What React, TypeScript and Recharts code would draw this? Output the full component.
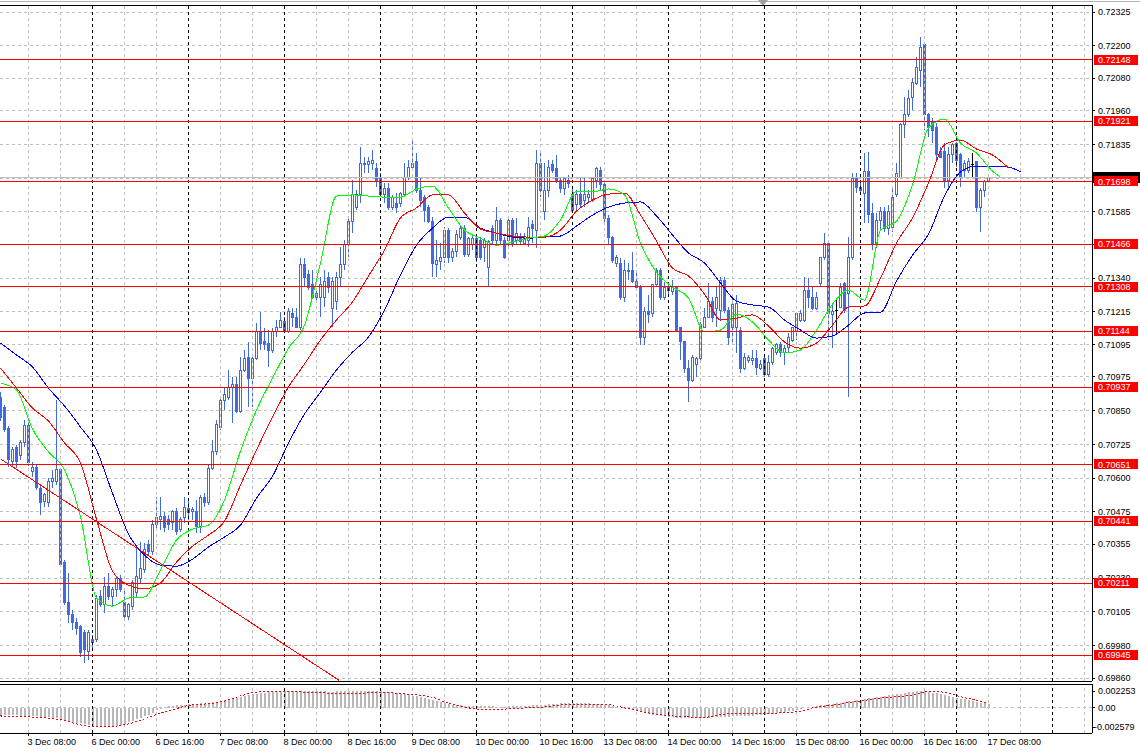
import React from 'react';
import { ComposedChart, Bar, Line, XAxis, YAxis, CartesianGrid, ReferenceLine } from 'recharts';

const PT = 0.00001;

const openPts = [
70900,70863,70785,70660,70715,70682,70730,70793,70623,70641,
70563,70512,70508,70586,70586,70630,70286,70138,70094,70064,
70049,70027,69957,70001,70001,70160,70131,70197,70160,70186,
70230,70138,70086,70123,70175,70230,70260,70353,70327,70427,
70445,70456,70445,70434,70475,70408,70453,70489,70475,70475,
70419,70530,70508,70637,70697,70789,70889,70900,70934,70945,
70845,71000,71048,70970,71044,71141,71104,71100,71074,71141,
71159,71178,71141,71211,71196,71159,71389,71352,71315,71267,
71267,71270,71344,71229,71252,71344,71389,71463,71548,71603,
71648,71766,71759,71766,71747,71710,71648,71673,71603,71618,
71618,71648,71714,71751,71770,71666,71637,71603,71548,71389,
71400,71415,71518,71415,71437,71492,71525,71426,71463,71488,
71481,71455,71381,71525,71481,71555,71481,71481,71555,71481,
71492,71470,71481,71537,71518,71766,71585,71666,71759,71747,
71703,71673,71703,71648,71611,71648,71629,71637,71629,71703,
71740,71685,71562,71492,71396,71396,71270,71370,71370,71326,
71307,71122,71215,71211,71315,71370,71267,71296,71289,71304,
71156,71104,71007,70963,71019,71044,71159,71196,71252,71229,
71222,71333,71222,71156,71159,71148,71007,71037,71037,71044,
71007,71044,70982,71026,71063,71093,71063,71085,71111,71141,
71185,71185,71296,71270,71229,71322,71415,71470,71204,71222,
71233,71322,71285,71415,71710,71677,71655,71733,71581,71470,
71555,71585,71525,71529,71648,71714,71907,71944,72010,72062,
72110,72203,71944,71918,71896,71807,71807,71703,71796,71840,
71796,71740,71740,71762,71770,71600,71666,71696];

const highPts = [
70919,70871,70793,70715,70722,70741,70815,70804,70660,70649,
70571,70545,70600,70630,70889,70637,70297,70249,70112,70083,
70057,70038,70038,70020,70168,70186,70234,70249,70197,70234,
70241,70186,70138,70223,70353,70364,70360,70371,70445,70530,
70530,70475,70464,70482,70489,70456,70530,70519,70493,70519,
70538,70545,70649,70741,70815,70900,70937,71000,70974,70974,
71048,71074,71104,71056,71174,71215,71156,71148,71156,71185,
71215,71196,71229,71229,71229,71415,71415,71370,71370,71304,
71344,71370,71363,71344,71363,71455,71481,71566,71703,71666,
71825,71788,71788,71814,71766,71729,71692,71692,71648,71655,
71659,71766,71777,71858,71803,71710,71648,71611,71566,71481,
71470,71529,71525,71452,71518,71537,71537,71492,71500,71492,
71492,71488,71481,71537,71603,71562,71492,71562,71562,71562,
71507,71507,71566,71555,71814,71814,71766,71777,71777,71796,
71714,71714,71722,71677,71666,71710,71710,71666,71714,71751,
71751,71692,71574,71496,71426,71415,71407,71396,71437,71370,
71315,71233,71278,71318,71378,71378,71326,71326,71333,71307,
71159,71107,71037,71056,71048,71178,71229,71322,71270,71307,
71344,71344,71233,71270,71278,71159,71063,71056,71074,71074,
71037,71056,71056,71085,71100,71104,71093,71137,71159,71215,
71222,71344,71341,71307,71289,71418,71507,71474,71248,71259,
71322,71326,71492,71729,71729,71703,71803,71807,71618,71581,
71603,71603,71611,71677,71766,71914,72010,72036,72081,72158,
72232,72210,71951,71933,71914,71825,71840,71825,71840,71844,
71803,71777,71785,71803,71770,71673,71703,71716];

const lowPts = [
70812,70771,70641,70641,70637,70667,70715,70645,70604,70556,
70464,70493,70493,70563,70574,70271,70131,70064,70038,70020,
69938,69916,69927,69964,69994,70123,70101,70149,70123,70160,
70179,70075,70075,70112,70160,70212,70249,70312,70316,70408,
70408,70401,70408,70408,70390,70401,70434,70445,70445,70397,
70397,70493,70500,70630,70686,70778,70852,70889,70804,70841,
70841,70993,70863,70863,71037,71074,71074,71011,71063,71122,
71156,71137,71137,71159,71156,71148,71307,71296,71270,71259,
71196,71233,71285,71159,71222,71307,71370,71418,71507,71592,
71618,71729,71729,71740,71677,71640,71618,71592,71592,71581,
71603,71640,71703,71740,71655,71603,71548,71544,71344,71344,
71370,71396,71396,71400,71418,71481,71418,71418,71444,71400,
71407,71400,71307,71463,71463,71463,71411,71455,71455,71463,
71463,71463,71455,71470,71452,71640,71555,71640,71729,71692,
71655,71648,71673,71585,71592,71600,71603,71618,71622,71673,
71666,71548,71463,71396,71381,71259,71252,71333,71322,71304,
71093,71093,71174,71196,71307,71259,71259,71270,71278,71144,
71037,70989,70882,70956,70974,71037,71156,71193,71178,71159,
71185,71211,71093,71100,71063,70989,71000,71026,71019,70982,
71000,70974,70974,71019,71056,71048,71019,71063,71104,71111,
71178,71178,71229,71222,71222,71307,71407,71111,71082,71130,
71229,71211,70900,71407,71655,71655,71544,71544,71444,71452,
71518,71511,71500,71511,71640,71714,71858,71936,71962,72055,
72047,71888,71862,71840,71770,71785,71673,71666,71766,71751,
71677,71714,71729,71714,71585,71511,71640,71692];

const closePts = [
70823,70778,70667,70704,70660,70730,70793,70656,70641,70567,
70508,70538,70586,70600,70630,70279,70138,70094,70064,70045,
69953,69964,70027,69990,70156,70131,70197,70160,70186,70230,
70186,70086,70131,70212,70234,70267,70334,70327,70427,70453,
70456,70416,70427,70475,70401,70445,70493,70471,70482,70419,
70530,70508,70637,70697,70797,70889,70908,70937,70945,70845,
71000,71044,70970,71044,71141,71100,71093,71074,71141,71159,
71185,71141,71215,71193,71159,71389,71344,71307,71270,71285,
71315,71326,71307,71326,71344,71389,71463,71548,71648,71648,
71766,71759,71770,71777,71703,71648,71673,71603,71640,71603,
71655,71714,71751,71766,71666,71629,71592,71548,71396,71407,
71415,71518,71415,71437,71500,71525,71426,71488,71488,71418,
71418,71481,71474,71481,71555,71481,71415,71555,71463,71507,
71474,71488,71529,71525,71766,71666,71666,71751,71740,71696,
71673,71710,71692,71592,71648,71611,71648,71648,71710,71747,
71685,71562,71492,71407,71415,71270,71370,71363,71326,71307,
71122,71215,71204,71315,71370,71267,71304,71307,71307,71148,
71104,71007,70963,71048,71044,71167,71196,71252,71196,71270,
71333,71222,71122,71241,71248,71007,71048,71048,71044,71011,
71019,70982,71026,71081,71093,71063,71081,71122,71156,71211,
71211,71296,71267,71229,71270,71415,71470,71211,71215,71222,
71307,71222,71415,71710,71677,71666,71733,71574,71470,71555,
71585,71525,71585,71640,71729,71907,71944,72006,72066,72118,
72195,71944,71896,71888,71796,71788,71703,71796,71833,71777,
71714,71766,71770,71762,71600,71666,71696,71714];

// Alligator lines, read every 4 bars
const maIdx = [0,4,8,12,16,20,24,28,32,36,40,44,48,52,56,60,64,68,72,76,80,84,88,92,96,100,104,108,112,116,120,124,128,132,136,140,144,148,152,156,160,164,168,172,176,180,184,188,192,196,200,204,208,212,216,220,224,228,232,236,240,244,248];
const jawPts = [71100,71056,71011,70933,70867,70789,70704,70544,70393,70315,70278,70274,70300,70345,70382,70426,70526,70607,70730,70837,70918,71000,71066,71122,71222,71352,71462,71525,71566,71566,71525,71507,71492,71488,71492,71496,71533,71573,71603,71618,71622,71570,71500,71433,71396,71322,71255,71241,71233,71185,71148,71118,71126,71166,71211,71214,71329,71425,71503,71644,71733,71755,71755];
const jawTailIdx = [252, 255];
const jawTailPts = [71751, 71733];
const teethPts = [71007,70933,70859,70811,70730,70656,70448,70256,70204,70190,70212,70289,70348,70389,70441,70574,70704,70826,70937,71022,71111,71185,71252,71348,71444,71563,71600,71648,71648,71581,71522,71507,71496,71492,71492,71518,71588,71629,71651,71655,71574,71477,71377,71348,71281,71185,71192,71204,71163,71104,71081,71100,71166,71233,71237,71340,71470,71563,71692,71833,71851,71818,71796];
const teethTailIdx = [252];
const teethTailPts = [71748];
const lipsPts = [70952,70926,70782,70697,70630,70456,70156,70126,70156,70160,70260,70371,70411,70426,70519,70700,70852,70970,71081,71166,71396,71644,71648,71644,71640,71640,71670,71681,71599,71518,71488,71462,71473,71488,71496,71555,71662,71659,71670,71648,71470,71362,71307,71266,71141,71148,71207,71178,71111,71063,71074,71148,71244,71296,71259,71518,71551,71685,71896,71929,71840,71803,71736];
const lipsTailIdx = [250];
const lipsTailPts = [71714];

// MACD main (histogram) and signal, in 1e-5 units
const macdPts = [
-95,-96,-98,-100,-102,-104,-106,-108,-110,-114,
-118,-122,-128,-134,-140,-148,-160,-172,-185,-198,
-210,-222,-235,-246,-254,-258,-257,-254,-248,-240,
-228,-212,-195,-176,-156,-135,-112,-90,-64,-36,
-12,6,18,28,34,38,42,46,50,54,
58,62,66,72,80,90,100,112,124,138,
150,162,172,182,190,198,204,208,212,215,
217,219,220,221,222,222,223,223,222,221,
220,219,218,218,219,220,222,223,224,225,
225,225,225,224,222,220,216,210,203,196,
189,182,174,165,156,146,135,122,108,93,
78,64,52,44,38,34,30,27,24,22,
20,19,18,18,17,17,17,18,19,21,
23,25,28,31,35,39,44,49,53,56,
60,62,64,64,63,62,60,58,55,52,
48,40,31,21,11,0,-10,-22,-34,-46,
-58,-70,-82,-92,-100,-108,-116,-122,-128,-133,
-137,-140,-141,-141,-140,-138,-135,-132,-128,-125,
-122,-120,-118,-116,-114,-112,-110,-107,-104,-101,
-98,-93,-88,-82,-75,-67,-58,-48,-38,-28,
-18,-8,2,12,22,32,40,48,56,62,
70,78,86,94,102,110,118,126,134,142,
150,158,166,174,182,190,198,206,214,220,
225,223,216,205,195,184,172,160,148,136,
124,112,100,90,80,70,62,55];
const sigIdx = [0,4,8,12,16,20,24,28,32,36,40,44,48,52,56,60,64,68,72,76,80,84,88,92,96,100,104,108,112,116,120,124,128,132,136,140,144,148,152,156,160,164,168,172,176,180,184,188,192,196,200,204,208,212,216,220,224,228,232,236,240,244,247];
const sigPts = [-110,-115,-125,-140,-170,-230,-255,-250,-215,-150,-70,-10,40,55,90,160,210,222,224,210,204,190,186,200,210,190,172,140,60,10,-20,-20,-12,0,12,37,48,51,45,0,-50,-85,-110,-122,-128,-90,-78,-74,-74,-65,-45,10,35,70,100,130,150,170,217,210,150,100,60];

const levelPrices = [0.72148, 0.71921, 0.71698, 0.71466, 0.71308, 0.71144, 0.70937, 0.70651, 0.70441, 0.70211, 0.69945];
const trendIdx = [0, 84.6];
const trendPrice = [0.70671, 0.69852];

const priceTicks = [0.72325,0.722,0.7208,0.7196,0.71835,0.7171,0.71585,0.71465,0.7134,0.71215,0.71095,0.70975,0.7085,0.70725,0.706,0.70475,0.70355,0.7023,0.70105,0.6998,0.6986];
const hiddenTicks = [0.7171];
const macdTicks = [0.002253, 0, -0.002579];
const macdTickText = ['0.002253', '0.00', '-0.002579'];

const gridIdx = [7,15,23,31,39,47,55,63,71,79,87,95,103,111,119,127,135,143,151,159,167,175,183,191,199,207,215,223,231,239,247,255,263,271];
const dayIdx = [23,47,71,95,119,143,167,191,215,239,263];
const labelIdx = [7,23,39,55,71,87,103,119,135,151,167,183,199,215,231,247];
const labelText = ['3 Dec 08:00','6 Dec 00:00','6 Dec 16:00','7 Dec 08:00','8 Dec 00:00','8 Dec 16:00','9 Dec 08:00','10 Dec 00:00','10 Dec 16:00','13 Dec 08:00','14 Dec 00:00','14 Dec 16:00','15 Dec 08:00','16 Dec 00:00','16 Dec 16:00','17 Dec 08:00'];

const X_DOMAIN: [number, number] = [-0.125, 272.875];
const Y_DOMAIN: [number, number] = [0.69849, 0.72351];
const M_DOMAIN: [number, number] = [-0.003383, 0.003195];

const CANDLE = '#4169E1';
const GRID = '#c0c0c0';
const FONT = '"Liberation Sans", Arial, sans-serif';

type Row = { i: number; o?: number; h?: number; l?: number; c?: number; jaw?: number; teeth?: number; lips?: number; macd?: number; sig?: number };

const rows: Row[] = [];
for (let i = 0; i <= 256; i++) rows.push({ i });
openPts.forEach((v, i) => {
  rows[i].o = v * PT;
  rows[i].h = highPts[i] * PT;
  rows[i].l = lowPts[i] * PT;
  rows[i].c = closePts[i] * PT;
});
maIdx.forEach((ix, k) => {
  rows[ix].jaw = jawPts[k] * PT;
  rows[ix].teeth = teethPts[k] * PT;
  rows[ix].lips = lipsPts[k] * PT;
});
jawTailIdx.forEach((ix, k) => { rows[ix].jaw = jawTailPts[k] * PT; });
teethTailIdx.forEach((ix, k) => { rows[ix].teeth = teethTailPts[k] * PT; });
lipsTailIdx.forEach((ix, k) => { rows[ix].lips = lipsTailPts[k] * PT; });
macdPts.forEach((v, i) => { rows[i].macd = v * PT; });
sigIdx.forEach((ix, k) => { rows[ix].sig = sigPts[k] * PT; });

const lastClose = closePts[closePts.length - 1] * PT;

const candleRange = (d: Row) => (d.c == null ? null : [d.l, d.h]);

const Candle = (props: any) => {
  const { x, y, width, height, payload } = props;
  if (!payload || payload.o == null) return null;
  const { o, h, l, c } = payload as Required<Row>;
  const cx = x + width / 2;
  const hi = Math.max(h, o, c);
  const lo = Math.min(l, o, c);
  const span = hi - lo;
  const py = (p: number) => (span > 0 ? y + ((hi - p) / span) * height : y);
  const top = py(Math.max(o, c));
  const bot = py(Math.min(o, c));
  if (o === c) {
    return (
      <g>
        <line x1={cx} x2={cx} y1={y} y2={y + height} stroke="#000" />
        <line x1={cx - 1.5} x2={cx + 1.5} y1={top} y2={top} stroke="#000" />
      </g>
    );
  }
  const bull = c > o;
  return (
    <g>
      <line x1={cx} x2={cx} y1={y} y2={y + height} stroke={CANDLE} />
      <rect x={cx - 1} y={top} width={2} height={Math.max(bot - top, 1)} fill={bull ? '#fff' : CANDLE} stroke={CANDLE} />
    </g>
  );
};

const LevelTag = (props: any) => {
  const { viewBox, text, bg, fg } = props;
  if (!viewBox) return null;
  const y = viewBox.y;
  const x = viewBox.x + viewBox.width;
  return (
    <g>
      <rect x={x + 2} y={y - 5} width={44} height={10} fill={bg} />
      {text ? (
        <text x={x + 6} y={y} dy="0.36em" fill={fg} fontSize={9} fontFamily={FONT}>{text}</text>
      ) : null}
    </g>
  );
};

const BidTag = (props: any) => {
  const { viewBox } = props;
  if (!viewBox) return null;
  const y = viewBox.y;
  const x = viewBox.x + viewBox.width;
  return <rect x={x + 1} y={y - 5} width={47} height={11} fill="#000" />;
};

const XTick = (props: any) => {
  const { x, y, payload } = props;
  const k = labelIdx.indexOf(payload.value);
  if (k < 0) return null;
  return (
    <text x={x - 1} y={y + 7} fontSize={9} fill="#000" fontFamily={FONT} textAnchor="start">{labelText[k]}</text>
  );
};

const MTick = (props: any) => {
  const { x, y, payload } = props;
  const k = macdTicks.indexOf(payload.value);
  if (k < 0) return null;
  const s = macdTickText[k];
  return (
    <text x={s.startsWith('-') ? x - 4 : x} y={y} dy="0.36em" fontSize={9} fill="#000" fontFamily={FONT} textAnchor="start">{s}</text>
  );
};

const vGrid = (prefix: string) =>
  gridIdx.map((ix) => (
    <ReferenceLine key={prefix + ix} x={ix} stroke={dayIdx.includes(ix) ? '#000' : GRID} strokeDasharray="3 3" />
  ));

export default function App() {
  return (
    <div style={{ position: 'absolute', left: 0, top: 0, width: 1140, height: 756, background: '#fff', overflow: 'hidden', fontFamily: FONT }}>
      <style>{`.mt4 svg line, .mt4 svg rect, .mt4 svg path { shape-rendering: crispEdges; }`}</style>
      <div style={{ position: 'absolute', left: 0, top: 1, width: 1140, height: 1, background: '#b4b4b4' }} />
      <svg style={{ position: 'absolute', left: 758, top: 0 }} width={11} height={7}>
        <polygon points="0,0 10,0 5,6" fill="#a0a0a0" />
      </svg>
      <div className="mt4" style={{ position: 'absolute', left: 0, top: 0 }}>
        <ComposedChart width={1140} height={684} data={rows} margin={{ top: 5, right: 0, bottom: 3, left: 0 }}>
          <CartesianGrid horizontal vertical={false} stroke={GRID} strokeDasharray="3 3" />
          <XAxis dataKey="i" type="number" domain={X_DOMAIN} allowDataOverflow hide />
          <YAxis
            orientation="right"
            type="number"
            domain={Y_DOMAIN}
            allowDataOverflow
            ticks={priceTicks}
            interval={0}
            width={48}
            tickSize={3}
            tickMargin={3}
            axisLine={{ stroke: '#000' }}
            tickLine={{ stroke: '#000' }}
            tick={{ fill: '#000', fontSize: 9, fontFamily: FONT }}
            tickFormatter={(v: number) => (hiddenTicks.includes(v) ? '' : v.toFixed(5))}
          />
          {vGrid('m')}
          <ReferenceLine y={lastClose} stroke={GRID} />
          <Bar dataKey={candleRange as any} barSize={4} shape={Candle} isAnimationActive={false} />
          <Line dataKey="jaw" type="monotone" stroke="#0000ff" strokeWidth={1} dot={false} activeDot={false} connectNulls isAnimationActive={false} />
          <Line dataKey="teeth" type="monotone" stroke="#ff0000" strokeWidth={1} dot={false} activeDot={false} connectNulls isAnimationActive={false} />
          <Line dataKey="lips" type="monotone" stroke="#00ff00" strokeWidth={1} dot={false} activeDot={false} connectNulls isAnimationActive={false} />
          <ReferenceLine
            segment={[{ x: trendIdx[0], y: trendPrice[0] }, { x: trendIdx[1], y: trendPrice[1] }]}
            stroke="#ff0000"
          />
          {levelPrices.map((p) => (
            <ReferenceLine key={'lv' + p} y={p} stroke="#ff0000" />
          ))}
          <ReferenceLine y={Y_DOMAIN[1]} stroke="#000" />
          <ReferenceLine y={Y_DOMAIN[0]} stroke="#000" />
        </ComposedChart>
      </div>
      <div className="mt4" style={{ position: 'absolute', left: 0, top: 0, pointerEvents: 'none' }}>
        <ComposedChart width={1140} height={684} data={rows} margin={{ top: 5, right: 48, bottom: 3, left: 0 }}>
          <XAxis dataKey="i" type="number" domain={X_DOMAIN} allowDataOverflow hide />
          <YAxis type="number" domain={Y_DOMAIN} allowDataOverflow hide />
          <ReferenceLine y={lastClose} stroke="none" label={<BidTag />} />
          {levelPrices.map((p) => (
            <ReferenceLine key={'tag' + p} y={p} stroke="none" label={<LevelTag text={p.toFixed(5)} bg="#ff0000" fg="#fff" />} />
          ))}
        </ComposedChart>
      </div>
      <div className="mt4" style={{ position: 'absolute', left: 0, top: 684 }}>
        <ComposedChart width={1140} height={72} data={rows} margin={{ top: 0, right: 0, bottom: 0, left: 0 }}>
          <XAxis
            dataKey="i"
            type="number"
            domain={X_DOMAIN}
            allowDataOverflow
            ticks={labelIdx}
            interval={0}
            height={23}
            tickSize={3}
            axisLine={{ stroke: '#000' }}
            tickLine={{ stroke: '#000' }}
            tick={<XTick />}
          />
          <YAxis
            orientation="right"
            type="number"
            domain={M_DOMAIN}
            allowDataOverflow
            ticks={macdTicks}
            interval={0}
            width={48}
            tickSize={3}
            tickMargin={3}
            axisLine={{ stroke: '#000' }}
            tickLine={{ stroke: '#000' }}
            tick={<MTick />}
          />
          {vGrid('s')}
          <ReferenceLine y={0} stroke={GRID} strokeDasharray="3 3" />
          <Bar dataKey="macd" barSize={2} fill="#b8b8b8" isAnimationActive={false} />
          <Line dataKey="sig" type="monotone" stroke="#ff0000" strokeDasharray="2 2" strokeWidth={1} dot={false} activeDot={false} connectNulls isAnimationActive={false} />
          <ReferenceLine y={M_DOMAIN[1]} stroke="#000" />
        </ComposedChart>
      </div>
    </div>
  );
}
